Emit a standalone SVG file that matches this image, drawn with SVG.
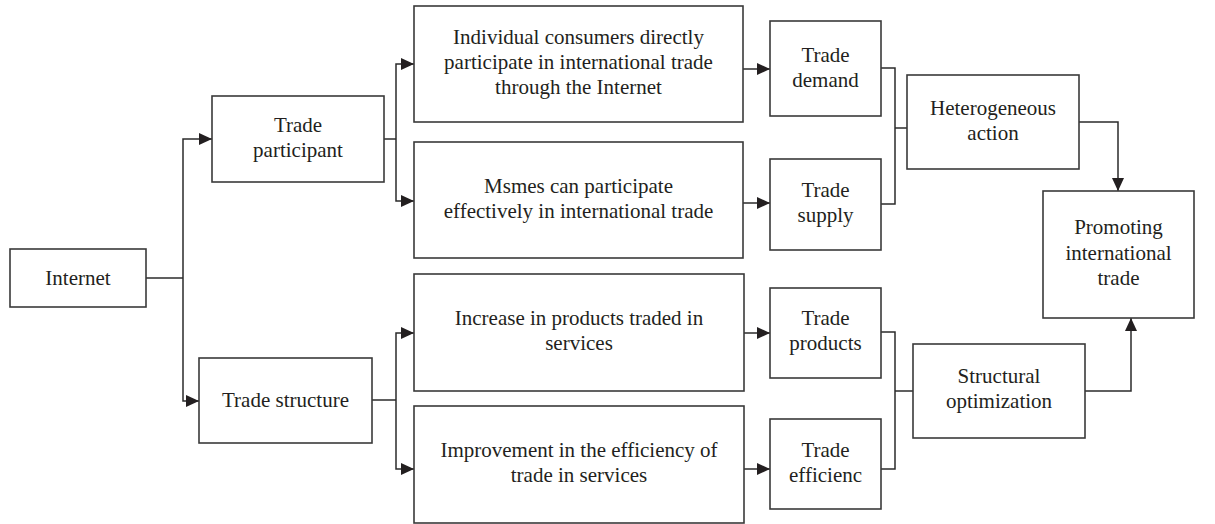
<svg xmlns="http://www.w3.org/2000/svg" width="1215" height="524" viewBox="0 0 1215 524">
  <style>
    .box { fill: #ffffff; stroke: #3a3a3a; stroke-width: 1.6; }
    .lbl { font-family: "Liberation Serif", "Times New Roman", serif; font-size: 21px; fill: #231f20; text-anchor: middle; }
    .wire { fill: none; stroke: #2b2b2b; stroke-width: 1.5; }
  </style>
  <defs>
    <marker id="arrow" markerUnits="userSpaceOnUse" markerWidth="14" markerHeight="12" refX="13" refY="6" orient="auto">
      <path d="M0,0 L13,6 L0,12 Z" fill="#231f20"/>
    </marker>
  </defs>
  <rect width="1215" height="524" fill="#ffffff"/>

  <!-- connectors -->
  <g id="connectors" class="wire">
    <path d="M146,278 H183"/>
    <path d="M183,278 V139 H212" marker-end="url(#arrow)"/>
    <path d="M183,278 V401 H199" marker-end="url(#arrow)"/>

    <path d="M384,139 H396"/>
    <path d="M396,139 V64 H414" marker-end="url(#arrow)"/>
    <path d="M396,139 V201 H414" marker-end="url(#arrow)"/>

    <path d="M372,400 H396"/>
    <path d="M396,400 V333 H414" marker-end="url(#arrow)"/>
    <path d="M396,400 V469 H414" marker-end="url(#arrow)"/>

    <path d="M743,69 H770" marker-end="url(#arrow)"/>
    <path d="M743,203 H770" marker-end="url(#arrow)"/>
    <path d="M744,333 H770" marker-end="url(#arrow)"/>
    <path d="M744,469 H770" marker-end="url(#arrow)"/>

    <path d="M881,68 H895 V204 H881"/>
    <path d="M895,128 H907"/>
    <path d="M881,332 H895 V469 H881"/>
    <path d="M895,391 H913"/>

    <path d="M1079,122 H1118 V191" marker-end="url(#arrow)"/>
    <path d="M1085,391 H1131 V318" marker-end="url(#arrow)"/>
  </g>

  <!-- nodes -->
  <g id="internet">
    <rect class="box" x="10" y="249" width="136" height="58"/>
    <text class="lbl" x="78" y="285">Internet</text>
  </g>
  <g id="trade-participant">
    <rect class="box" x="212" y="96" width="172" height="86"/>
    <text class="lbl" x="298" y="132">Trade</text>
    <text class="lbl" x="298" y="157">participant</text>
  </g>
  <g id="trade-structure">
    <rect class="box" x="199" y="358" width="173" height="85"/>
    <text class="lbl" x="285.5" y="407">Trade structure</text>
  </g>
  <g id="individual-consumers">
    <rect class="box" x="414" y="6" width="329" height="116"/>
    <text class="lbl" x="578.5" y="44">Individual consumers directly</text>
    <text class="lbl" x="578.5" y="69">participate in international trade</text>
    <text class="lbl" x="578.5" y="94">through the Internet</text>
  </g>
  <g id="msmes">
    <rect class="box" x="414" y="142" width="329" height="116"/>
    <text class="lbl" x="578.5" y="193">Msmes can participate</text>
    <text class="lbl" x="578.5" y="218">effectively in international trade</text>
  </g>
  <g id="increase-products">
    <rect class="box" x="414" y="274" width="330" height="117"/>
    <text class="lbl" x="579" y="325">Increase in products traded in</text>
    <text class="lbl" x="579" y="350">services</text>
  </g>
  <g id="improvement-efficiency">
    <rect class="box" x="414" y="406" width="330" height="117"/>
    <text class="lbl" x="579" y="457">Improvement in the efficiency of</text>
    <text class="lbl" x="579" y="482">trade in services</text>
  </g>
  <g id="trade-demand">
    <rect class="box" x="770" y="21" width="111" height="95"/>
    <text class="lbl" x="825.5" y="62">Trade</text>
    <text class="lbl" x="825.5" y="87">demand</text>
  </g>
  <g id="trade-supply">
    <rect class="box" x="770" y="159" width="111" height="91"/>
    <text class="lbl" x="825.5" y="197">Trade</text>
    <text class="lbl" x="825.5" y="222">supply</text>
  </g>
  <g id="trade-products">
    <rect class="box" x="770" y="288" width="111" height="90"/>
    <text class="lbl" x="825.5" y="325">Trade</text>
    <text class="lbl" x="825.5" y="350">products</text>
  </g>
  <g id="trade-efficiency">
    <rect class="box" x="770" y="419" width="111" height="90"/>
    <text class="lbl" x="825.5" y="457">Trade</text>
    <text class="lbl" x="825.5" y="482">efficienc</text>
  </g>
  <g id="heterogeneous-action">
    <rect class="box" x="907" y="75" width="172" height="94"/>
    <text class="lbl" x="993" y="115">Heterogeneous</text>
    <text class="lbl" x="993" y="140">action</text>
  </g>
  <g id="structural-optimization">
    <rect class="box" x="913" y="344" width="172" height="94"/>
    <text class="lbl" x="999" y="383">Structural</text>
    <text class="lbl" x="999" y="408">optimization</text>
  </g>
  <g id="promoting-trade">
    <rect class="box" x="1043" y="191" width="151" height="127"/>
    <text class="lbl" x="1118.5" y="234">Promoting</text>
    <text class="lbl" x="1118.5" y="259.5">international</text>
    <text class="lbl" x="1118.5" y="285">trade</text>
  </g>
</svg>
